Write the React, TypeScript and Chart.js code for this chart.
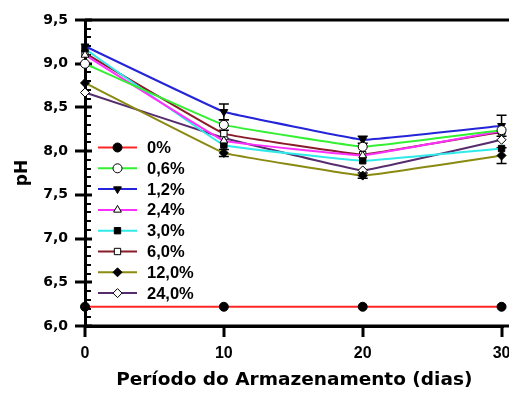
import React, { useEffect, useRef } from "react";
import { Chart, registerables } from "chart.js";
import { drawPoint } from "chart.js/helpers";

Chart.register(...registerables);

// Storage period (days)
const days = [0, 10, 20, 30];

// pH per concentration
const labels = ["0%", "0,6%", "1,2%", "2,4%", "3,0%", "6,0%", "12,0%", "24,0%"];
const ph0 = [6.22, 6.22, 6.22, 6.22];
const ph06 = [9.0, 8.3, 8.05, 8.24];
const ph12 = [9.2, 8.45, 8.13, 8.29];
const ph24 = [9.1, 8.12, 7.95, 8.23];
const ph30 = [9.17, 8.07, 7.89, 8.03];
const ph60 = [9.12, 8.2, 7.96, 8.22];
const ph120 = [8.78, 7.98, 7.72, 7.95];
const ph240 = [8.67, 8.15, 7.78, 8.13];

// Standard deviations (only where bars are visible)
const err06 = [0, 0.06, 0, 0];
const err12 = [0, 0.09, 0.04, 0.12];
const err120 = [0, 0.04, 0.03, 0.09];

const yTicks = [6.0, 6.5, 7.0, 7.5, 8.0, 8.5, 9.0, 9.5];
const xTicks = [0, 10, 20, 30];

const seriesValues = [ph0, ph06, ph12, ph24, ph30, ph60, ph120, ph240];
const seriesErrors = [null, err06, err12, null, null, null, err120, null];
const colors = ["#ff2626", "#33f033", "#2424d8", "#ff30ff", "#30eaea", "#8a1c2a", "#8a8a12", "#562c6c"];
const markers = [
  { style: "circle", fill: "#000", rot: 0 },
  { style: "circle", fill: "#fff", rot: 0 },
  { style: "triangle", fill: "#000", rot: 180 },
  { style: "triangle", fill: "#fff", rot: 0 },
  { style: "rect", fill: "#000", rot: 0 },
  { style: "rect", fill: "#fff", rot: 0 },
  { style: "rectRot", fill: "#000", rot: 0 },
  { style: "rectRot", fill: "#fff", rot: 0 },
];

const axisPlugin = {
  id: "axisDecor",
  beforeDatasetsDraw(chart: any) {
    const { ctx, chartArea, scales } = chart;
    const x = scales.x;
    const y = scales.y;
    ctx.save();
    ctx.strokeStyle = "#000";
    ctx.lineCap = "butt";
    // top frame line
    ctx.lineWidth = 3;
    ctx.beginPath();
    ctx.moveTo(chartArea.left, chartArea.top);
    ctx.lineTo(chart.width, chartArea.top);
    ctx.stroke();
    // y minor ticks
    ctx.lineWidth = 2;
    for (let v = 60; v <= 95; v++) {
      if (v % 5 === 0) continue;
      const py = Math.round(y.getPixelForValue(v / 10));
      ctx.beginPath();
      ctx.moveTo(chartArea.left, py);
      ctx.lineTo(chartArea.left + 6, py);
      ctx.stroke();
    }
    // y major ticks crossing the axis
    ctx.lineWidth = 3;
    y.ticks.forEach((t: any) => {
      const py = Math.round(y.getPixelForValue(t.value));
      ctx.beginPath();
      ctx.moveTo(chartArea.left - 10, py);
      ctx.lineTo(chartArea.left + 7, py);
      ctx.stroke();
    });
    // x ticks below axis
    x.ticks.forEach((t: any) => {
      const px = Math.round(x.getPixelForValue(t.value));
      ctx.beginPath();
      ctx.moveTo(px, chartArea.bottom);
      ctx.lineTo(px, chartArea.bottom + 11);
      ctx.stroke();
    });
    // x axis line continues to the canvas edge
    ctx.beginPath();
    ctx.moveTo(chartArea.left, chartArea.bottom);
    ctx.lineTo(chart.width, chartArea.bottom);
    ctx.stroke();
    // error bars
    ctx.lineWidth = 1.5;
    chart.data.datasets.forEach((ds: any, i: number) => {
      const errs = seriesErrors[i];
      if (!errs) return;
      ds.data.forEach((p: any, j: number) => {
        const e = errs[j];
        if (!e) return;
        const px = x.getPixelForValue(p.x);
        const top = y.getPixelForValue(p.y + e);
        const bot = y.getPixelForValue(p.y - e);
        ctx.beginPath();
        ctx.moveTo(px, top);
        ctx.lineTo(px, bot);
        ctx.moveTo(px - 5, top);
        ctx.lineTo(px + 5, top);
        ctx.moveTo(px - 5, bot);
        ctx.lineTo(px + 5, bot);
        ctx.stroke();
      });
    });
    ctx.restore();
  },
  afterDraw(chart: any) {
    // legend inside the plot area
    const { ctx, chartArea } = chart;
    ctx.save();
    const x0 = chartArea.left + 13;
    const x1 = chartArea.left + 52;
    const xm = (x0 + x1) / 2;
    labels.forEach((lab, i) => {
      const yy = 147.5 + i * 20.8;
      ctx.strokeStyle = colors[i];
      ctx.lineWidth = 2;
      ctx.beginPath();
      ctx.moveTo(x0, yy);
      ctx.lineTo(x1, yy);
      ctx.stroke();
      ctx.fillStyle = markers[i].fill;
      ctx.strokeStyle = "#000";
      ctx.lineWidth = 1;
      drawPoint(ctx, { pointStyle: markers[i].style, radius: 4.5, rotation: markers[i].rot, borderWidth: 1 } as any, xm, yy);
      ctx.fillStyle = "#000";
      ctx.font = "bold 16.5px 'Liberation Sans', Arial, sans-serif";
      ctx.textAlign = "left";
      ctx.textBaseline = "middle";
      ctx.fillText(lab, chartArea.left + 62, yy + 1);
    });
    ctx.restore();
  },
};

export default function App() {
  const ref = useRef<HTMLCanvasElement>(null);

  useEffect(() => {
    document.body.style.margin = "0";
    const canvas = ref.current!;
    const datasets = seriesValues.map((vals, i) => ({
      label: labels[i],
      data: days.map((d, j) => ({ x: d, y: vals[j] })),
      borderColor: colors[i],
      borderWidth: 2,
      backgroundColor: markers[i].fill,
      pointBackgroundColor: markers[i].fill,
      pointBorderColor: "#000",
      pointBorderWidth: 1,
      pointStyle: markers[i].style,
      pointRotation: markers[i].rot,
      pointRadius: 4.5,
      tension: 0.05,
      clip: false as any,
    }));

    const chart = new Chart(canvas, {
      type: "line",
      data: { datasets },
      plugins: [axisPlugin],
      options: {
        responsive: false,
        animation: false,
        devicePixelRatio: 1,
        layout: { padding: { top: 20, right: 0, left: 0, bottom: 0 } },
        plugins: { legend: { display: false }, tooltip: { enabled: false } },
        scales: {
          x: {
            type: "linear",
            min: 0,
            max: 30.14,
            afterBuildTicks: (s: any) => {
              s.ticks = xTicks.map((v) => ({ value: v }));
            },
            grid: { display: false, drawTicks: false },
            border: { display: true, color: "#000", width: 3 },
            ticks: {
              padding: 18,
              color: "#000",
              maxRotation: 0,
              font: { family: "'Liberation Sans', Arial, sans-serif", size: 16, weight: "bold" },
              callback: (v: any) => String(v),
            },
            title: {
              display: true,
              text: "Período do Armazenamento (dias)",
              color: "#000",
              font: { family: "'DejaVu Sans', sans-serif", size: 18.5, weight: "bold" },
              padding: { top: 0, bottom: 6 },
            },
            afterFit: (s: any) => {
              s.height = 71;
              s.paddingLeft = 0;
              s.paddingRight = 0;
            },
          },
          y: {
            type: "linear",
            min: 6,
            max: 9.5,
            afterBuildTicks: (s: any) => {
              s.ticks = yTicks.map((v) => ({ value: v }));
            },
            grid: { display: false, drawTicks: false },
            border: { display: true, color: "#000", width: 3 },
            ticks: {
              padding: 17,
              color: "#000",
              font: { family: "'DejaVu Sans', sans-serif", size: 14, weight: "bold" },
              callback: (v: any) => Number(v).toFixed(1).replace(".", ","),
            },
            title: {
              display: true,
              text: "pH",
              color: "#000",
              font: { family: "'DejaVu Sans', sans-serif", size: 17, weight: "bold" },
              padding: { top: 12, bottom: 0 },
            },
            afterFit: (s: any) => {
              s.width = 85;
              s.paddingTop = 0;
              s.paddingBottom = 0;
            },
          },
        },
      } as any,
    });
    return () => chart.destroy();
  }, []);

  return (
    <div style={{ width: 509, height: 397, overflow: "hidden" }}>
      <canvas ref={ref} width={509} height={397} style={{ display: "block" }} />
    </div>
  );
}
